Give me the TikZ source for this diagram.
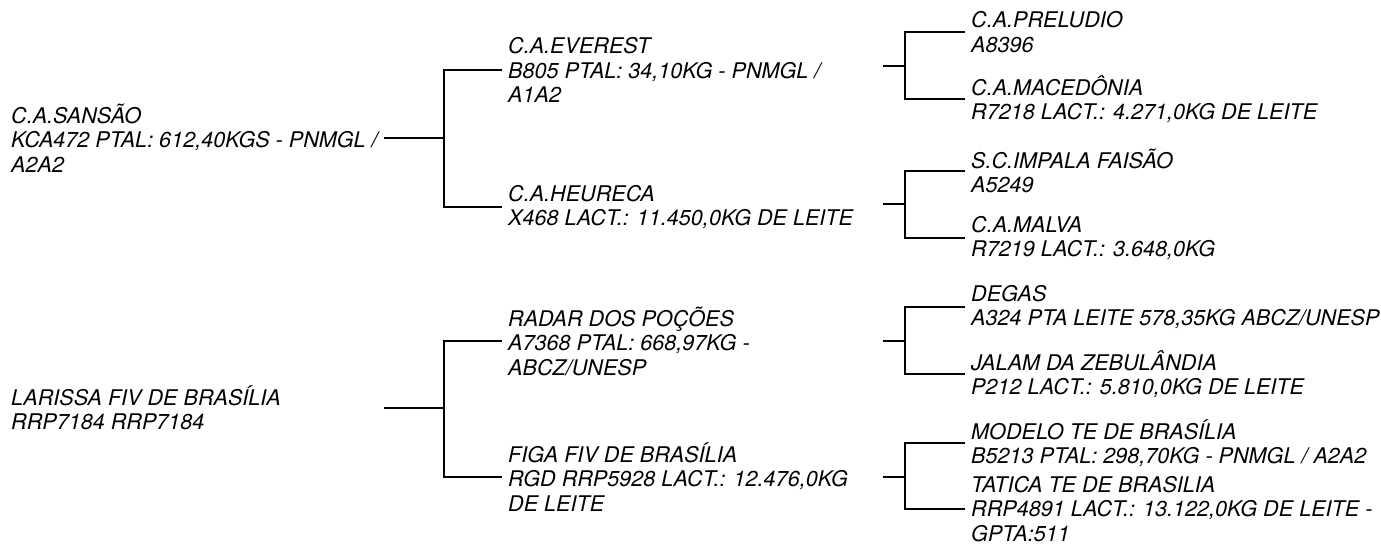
\documentclass[tikz,border=0pt]{standalone}
\usepackage{fontspec}
\setmainfont{TeX Gyre Heros}

\begin{document}
\begin{tikzpicture}[x=1pt, y=-1pt, line width=2.4pt,
  animal/.style={anchor=west, align=left, inner xsep=5pt, inner ysep=0pt,
    font=\fontsize{21.6}{24.5}\selectfont\itshape}]
\useasboundingbox (0,0) rectangle (1381,545);
% parents
\node[animal] (sansao) at (5,138) {C.A.SANSÃO\\KCA472 PTAL: 612,40KGS - PNMGL /\\A2A2};
\node[animal] (larissa) at (5,408) {LARISSA FIV DE BRASÍLIA\\RRP7184 RRP7184};
% grandparents
\node[animal] (everest) at (502,70) {C.A.EVEREST\\B805 PTAL: 34,10KG - PNMGL /\\A1A2};
\node[animal] (heureca) at (502,207) {C.A.HEURECA\\X468 LACT.: 11.450,0KG DE LEITE};
\node[animal] (radar) at (502,341) {RADAR DOS POÇÕES\\A7368 PTAL: 668,97KG -\\ABCZ/UNESP};
\node[animal] (figa) at (502,477) {FIGA FIV DE BRASÍLIA\\RGD RRP5928 LACT.: 12.476,0KG\\DE LEITE};
% great-grandparents
\node[animal] (preludio) at (965,32) {C.A.PRELUDIO\\A8396};
\node[animal] (macedonia) at (965,99) {C.A.MACEDÔNIA\\R7218 LACT.: 4.271,0KG DE LEITE};
\node[animal] (impala) at (965,171) {S.C.IMPALA FAISÃO\\A5249};
\node[animal] (malva) at (965,238) {C.A.MALVA\\R7219 LACT.: 3.648,0KG};
\node[animal] (degas) at (965,307) {DEGAS\\A324 PTA LEITE 578,35KG ABCZ/UNESP};
\node[animal] (jalam) at (965,374) {JALAM DA ZEBULÂNDIA\\P212 LACT.: 5.810,0KG DE LEITE};
\node[animal] (modelo) at (965,443) {MODELO TE DE BRASÍLIA\\B5213 PTAL: 298,70KG - PNMGL / A2A2};
\node[animal] (tatica) at (965,509) {TATICA TE DE BRASILIA\\RRP4891 LACT.: 13.122,0KG DE LEITE -\\GPTA:511};

\coordinate (ssansao) at (sansao.east);   \coordinate (jsansao) at (444,138);
\coordinate (slarissa) at (384,408);      \coordinate (jlarissa) at (444,408);
\coordinate (severest) at (883,66);       \coordinate (jeverest) at (905,66);
\coordinate (sheureca) at (883,204);      \coordinate (jheureca) at (905,204);
\coordinate (sradar) at (883,341);        \coordinate (jradar) at (905,341);
\coordinate (sfiga) at (883,477);         \coordinate (jfiga) at (905,477);

\foreach \p/\a/\b in {sansao/everest/heureca, larissa/radar/figa,
    everest/preludio/macedonia, heureca/impala/malva,
    radar/degas/jalam, figa/modelo/tatica}{
  \draw (s\p) -- (j\p);
  \draw (\a.west) -| (j\p) |- (\b.west);
}
\end{tikzpicture}
\end{document}
